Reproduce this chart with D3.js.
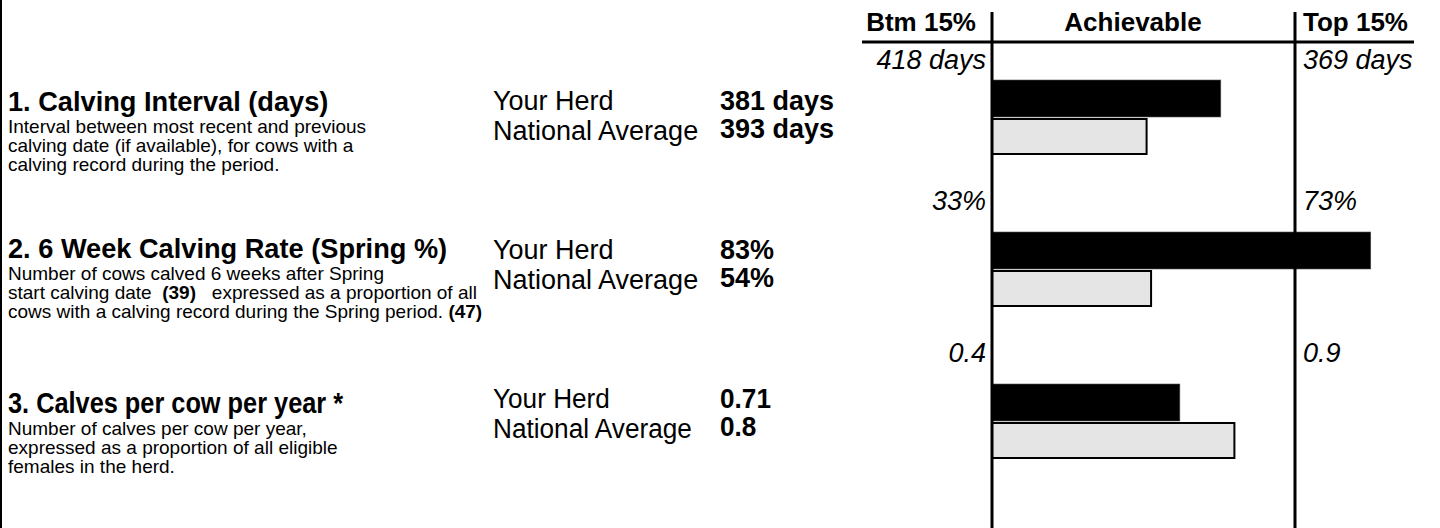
<!DOCTYPE html>
<html>
<head>
<meta charset="utf-8">
<script src="https://cdn.jsdelivr.net/npm/d3@7"></script>
<style>
  html, body { margin: 0; padding: 0; background: #fff; }
  svg { display: block; font-family: "Liberation Sans", Arial, sans-serif; }
</style>
</head>
<body>
<script>
// ---------- data ----------
const metricTitles = ["1. Calving Interval (days)", "2. 6 Week Calving Rate (Spring %)", "3. Calves per cow per year *"];
const metricDescriptions = [
  ["Interval between most recent and previous", "calving date (if available), for cows with a", "calving record during the period."],
  ["Number of cows calved 6 weeks after Spring", "start calving date", "cows with a calving record during the Spring period."],
  ["Number of calves per cow per year,", "expressed as a proportion of all eligible", "females in the herd."]
];
const springCounts = ["(39)", "(47)"];
const springTail = "expressed as a proportion of all";
const seriesNames = ["Your Herd", "National Average"];
const herdValues = [381, 83, 0.71];
const nationalValues = [393, 54, 0.8];
const herdLabels = ["381 days", "83%", "0.71"];
const nationalLabels = ["393 days", "54%", "0.8"];
const btmValues = [418, 33, 0.4];
const topValues = [369, 73, 0.9];
const btmLabels = ["418 days", "33%", "0.4"];
const topLabels = ["369 days", "73%", "0.9"];
const headerLabels = ["Btm 15%", "Achievable", "Top 15%"];

// ---------- layout ----------
const W = 1440, H = 528;
const axisX = 992, rightX = 1295;
const svg = d3.select("body").append("svg").attr("width", W).attr("height", H);

const rowTop = d3.scaleLinear().domain([0, 2]).range([80, 384]);   // bar block top per row
const titleBase = [111, 258, 413];
const descBase = [133, 280, 435];
const descStep = 19;
const herdBase = [110, 259, 408];
const natBase = [140, 289, 438];
const herdValBase = [110, 259, 408];
const natValBase = [138, 287, 436];
const blackH = 37, greyH = 35;

// left border
svg.append("line").attr("x1", 1).attr("x2", 1).attr("y1", 0).attr("y2", H)
  .attr("stroke", "#000").attr("stroke-width", 2);

// header
svg.append("text").attr("x", 976).attr("y", 31).attr("text-anchor", "end")
  .attr("font-size", 26).attr("font-weight", "bold").text(headerLabels[0]);
svg.append("text").attr("x", 1133).attr("y", 31).attr("text-anchor", "middle")
  .attr("font-size", 26).attr("font-weight", "bold").text(headerLabels[1]);
svg.append("text").attr("x", 1303).attr("y", 31)
  .attr("font-size", 26).attr("font-weight", "bold").text(headerLabels[2]);
svg.append("line").attr("x1", 862).attr("x2", 1414).attr("y1", 42).attr("y2", 42)
  .attr("stroke", "#000").attr("stroke-width", 3);

function placed(g, x, y, sx, sy) {
  return g.append("text").attr("transform", `translate(${x},${y}) scale(${sx},${sy})`);
}

metricTitles.forEach((title, i) => {
  const top = rowTop(i);
  const x = d3.scaleLinear().domain([btmValues[i], topValues[i]]).range([axisX, rightX]);
  const g = svg.append("g");
  const narrow = i === 2;            // third block title is set in a condensed face

  // title
  placed(g, 8, titleBase[i], narrow ? 0.905 : 1, narrow ? 1.04 : 1)
    .attr("font-size", narrow ? 28 : 27.2).attr("font-weight", "bold").text(title);

  // description
  metricDescriptions[i].forEach((line, j) => {
    const t = g.append("text").attr("x", 8).attr("y", descBase[i] + j * descStep).attr("font-size", 19);
    t.append("tspan").text(line);
    if (i === 1 && j === 1) {
      t.append("tspan").attr("font-weight", "bold").text("\u00a0\u00a0" + springCounts[0]);
      t.append("tspan").text("\u00a0\u00a0\u00a0" + springTail);
    }
    if (i === 1 && j === 2) {
      t.append("tspan").attr("font-weight", "bold").text("\u00a0" + springCounts[1]);
    }
  });

  // series labels & values
  const sx = narrow ? 0.97 : 1;
  placed(g, 493, herdBase[i], sx, 1).attr("font-size", 27).text(seriesNames[0]);
  placed(g, 493, natBase[i], sx, 1).attr("font-size", 27).text(seriesNames[1]);
  placed(g, 720, herdValBase[i], sx, 1).attr("font-size", 27).attr("font-weight", "bold").text(herdLabels[i]);
  placed(g, 720, natValBase[i], sx, 1).attr("font-size", 27).attr("font-weight", "bold").text(nationalLabels[i]);

  // range labels
  const ly = i === 0 ? 69 : top - 22;
  g.append("text").attr("x", axisX - 6).attr("y", ly).attr("text-anchor", "end")
    .attr("font-size", 27).attr("font-style", "italic").text(btmLabels[i]);
  g.append("text").attr("x", rightX + 8).attr("y", ly)
    .attr("font-size", 27).attr("font-style", "italic").text(topLabels[i]);

  // bars
  g.append("rect").attr("x", axisX).attr("y", top)
    .attr("width", x(herdValues[i]) - axisX).attr("height", blackH)
    .attr("fill", "#000").attr("stroke", "#555").attr("stroke-width", 0.6);
  g.append("rect").attr("x", axisX).attr("y", top + blackH + 2)
    .attr("width", x(nationalValues[i]) - axisX).attr("height", greyH)
    .attr("fill", "#e5e5e5").attr("stroke", "#000").attr("stroke-width", 2);
});

// vertical reference lines
svg.append("line").attr("x1", axisX).attr("x2", axisX).attr("y1", 12).attr("y2", H)
  .attr("stroke", "#000").attr("stroke-width", 3);
svg.append("line").attr("x1", rightX).attr("x2", rightX).attr("y1", 12).attr("y2", H)
  .attr("stroke", "#000").attr("stroke-width", 3);
</script>
</body>
</html>
